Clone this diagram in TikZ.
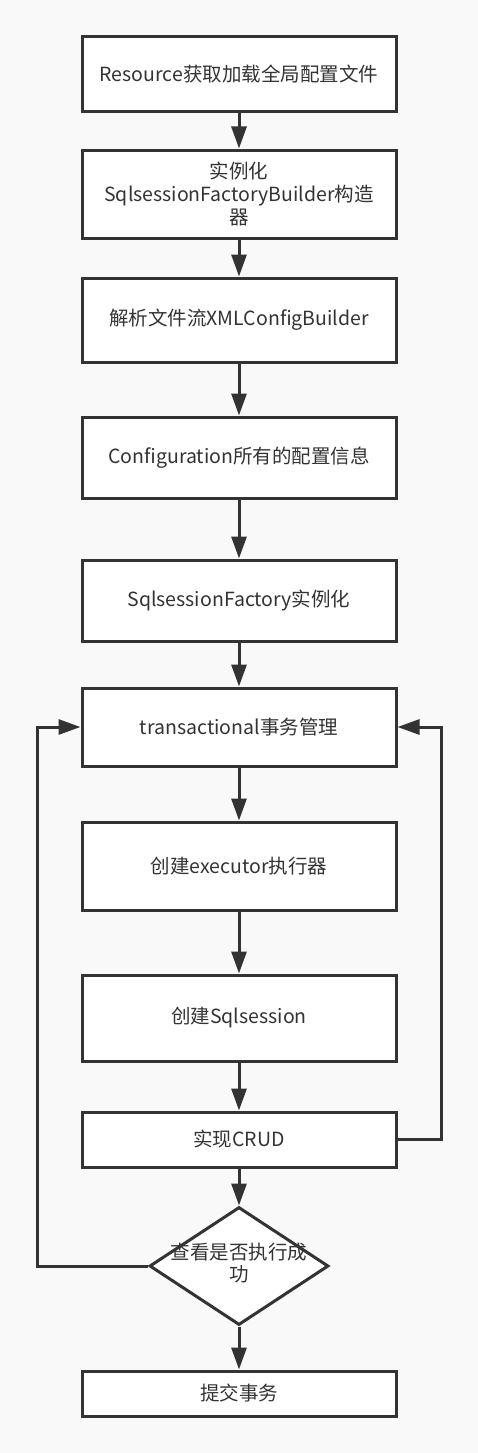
\documentclass[tikz,border=0pt]{standalone}
\usepackage{fontspec}
\setmainfont{Noto Sans CJK SC}
\usetikzlibrary{shapes.geometric,arrows.meta}
\definecolor{ink}{HTML}{333333}
\definecolor{bg}{HTML}{F9F9F9}
\begin{document}
\begin{tikzpicture}[x=1pt,y=-1pt,
  box/.style={draw=ink,line width=3pt,fill=white,minimum width=314pt,text=ink,font=\fontsize{19.5}{23}\selectfont,align=center,inner sep=0pt},
  dec/.style={draw=ink,line width=3pt,fill=white,diamond,minimum width=179pt,minimum height=118pt,inner sep=0pt,text=ink,font=\fontsize{19.5}{23}\selectfont},
  link/.style={draw=ink,line width=3pt,-{Triangle[length=22pt,width=15pt]}}]
\fill[bg] (0,0) rectangle (478,1453);
\useasboundingbox (0,0) rectangle (478,1453);
\node[box,minimum height=75pt] (b1) at (239,74.5) {Resource获取加载全局配置文件};
\node[box,minimum height=88pt] (b2) at (239,194) {实例化\\SqlsessionFactoryBuilder构造\\器};
\node[box,minimum height=84pt] (b3) at (239,320) {解析文件流XMLConfigBuilder};
\node[box,minimum height=81pt] (b4) at (239,457.5) {Configuration所有的配置信息};
\node[box,minimum height=81pt] (b5) at (239,600.5) {SqlsessionFactory实例化};
\node[box,minimum height=78pt] (b6) at (239,727) {transactional事务管理};
\node[box,minimum height=88pt] (b7) at (239,866) {创建executor执行器};
\node[box,minimum height=86pt] (b8) at (239,1018) {创建Sqlsession};
\node[box,minimum height=55pt] (b9) at (239,1139.5) {实现CRUD};
\node[dec] (d) at (239,1266) {\makebox[0pt][c]{\begin{tabular}{@{}c@{}}查看是否执行成\\[-1pt]功\end{tabular}}};
\node[box,minimum height=45pt] (b10) at (239,1393.5) {提交事务};
\coordinate (l1) at (37,1266);
\coordinate (l2) at (37,727);
\coordinate (r1) at (441,1139.5);
\coordinate (r2) at (441,727);
\draw[link] (b1) -- (b2);
\draw[link] (b2) -- (b3);
\draw[link] (b3) -- (b4);
\draw[link] (b4) -- (b5);
\draw[link] (b5) -- (b6);
\draw[link] (b6) -- (b7);
\draw[link] (b7) -- (b8);
\draw[link] (b8) -- (b9);
\draw[link] (b9) -- (d);
\draw[link] (d) -- (b10);
\draw[link] (d.west) -- (l1) -- (l2) -- (b6.west);
\draw[link] (b9.east) -- (r1) -- (r2) -- (b6.east);
\end{tikzpicture}
\end{document}
